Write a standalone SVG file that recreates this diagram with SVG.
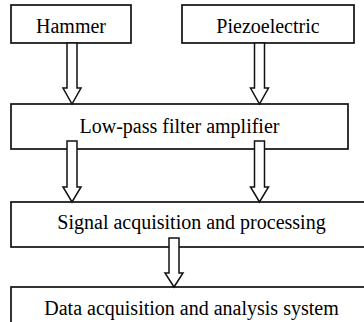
<svg xmlns="http://www.w3.org/2000/svg" width="364" height="322" viewBox="0 0 364 322">
<style>
.box{fill:#fff;stroke:#111;stroke-width:1.7}
.arr{fill:#fff;stroke:#111;stroke-width:1.5;stroke-linejoin:miter}
.t{font-family:'Liberation Serif','Times New Roman',Times,serif;font-size:20px;fill:#000;text-anchor:middle}
</style>
<rect width="364" height="322" fill="#fff"/>
<g id="hammer"><rect class="box" x="11" y="5" width="120" height="38"/><text class="t" x="71" y="33">Hammer</text></g>
<g id="piezo"><rect class="box" x="182" y="5" width="172" height="38"/><text class="t" x="268" y="33">Piezoelectric</text></g>
<g id="lowpass"><rect class="box" x="11" y="104" width="337" height="45"/><text class="t" x="179.5" y="133">Low-pass filter amplifier</text></g>
<g id="signal"><rect class="box" x="11" y="202" width="362" height="45"/><text class="t" x="191.5" y="229">Signal acquisition and processing</text></g>
<g id="data"><rect class="box" x="11" y="287" width="362" height="45"/><text class="t" x="191.5" y="315">Data acquisition and analysis system</text></g>
<g id="connectors">
<polygon class="arr" points="67,43 77,43 77,88 81,88 72,104 63,88 67,88"/>
<polygon class="arr" points="254.5,43 264.5,43 264.5,88 268.5,88 259.5,104 250.5,88 254.5,88"/>
<polygon class="arr" points="67,141 77,141 77,187 81,187 72,202 63,187 67,187"/>
<polygon class="arr" points="254.5,141 264.5,141 264.5,187 268.5,187 259.5,202 250.5,187 254.5,187"/>
<polygon class="arr" points="169,238 179,238 179,273 183,273 174,287 165,273 169,273"/>
</g>
</svg>
